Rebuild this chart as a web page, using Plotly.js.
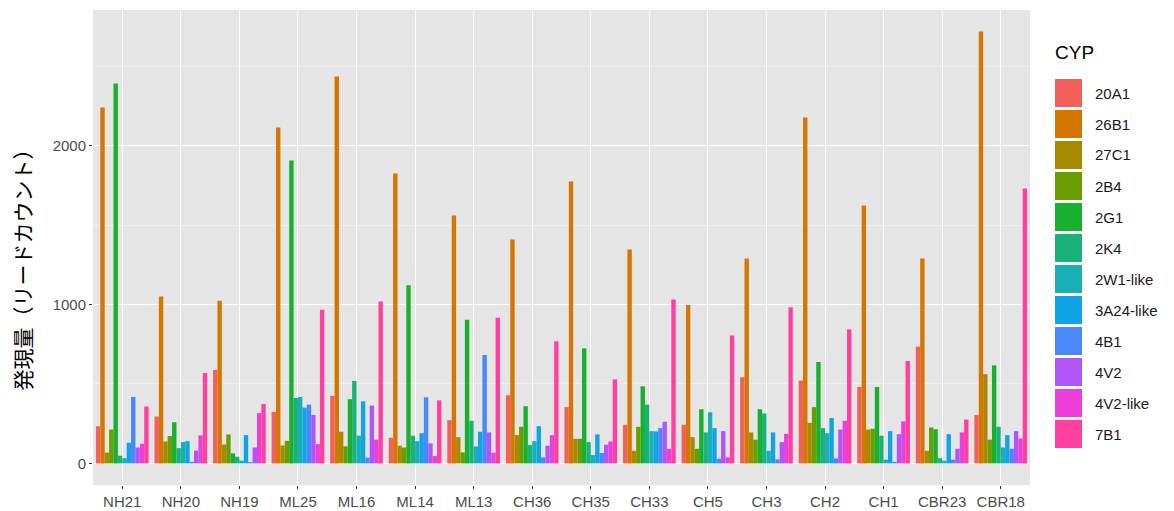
<!DOCTYPE html>
<html><head><meta charset="utf-8">
<script src="https://cdn.plot.ly/plotly-3.0.1.min.js"></script>
<style>html,body{margin:0;padding:0;background:#fff}#c{width:1174px;height:511px}</style>
</head><body><div id="c"></div>
<script>
const categories = ["NH21","NH20","NH19","ML25","ML16","ML14","ML13","CH36","CH35","CH33","CH5","CH3","CH2","CH1","CBR23","CBR18"];
const seriesNames = ["20A1","26B1","27C1","2B4","2G1","2K4","2W1-like","3A24-like","4B1","4V2","4V2-like","7B1"];
const colors = ["#F2605B","#D47600","#A88A00","#6A9E00","#18B02F","#1AB27A","#18B0B4","#0EA4E6","#4A87FA","#B255F7","#EE3ED9","#FF40A0"];
const yTitle = '発現量（リードカウント）';

const v20A1   = [234, 295, 588, 324, 425, 161, 272, 429, 354, 243, 243, 542, 521, 481, 734, 305];
const v26B1   = [2240,1050,1023,2113,2434,1824,1560,1409,1774,1346, 996,1289,2176,1623,1289,2717];
const v27C1   = [ 67, 138, 119, 113, 199, 111, 165, 178, 155,  79, 165, 195, 255, 213,  79, 561];
const v2B4    = [213, 172, 182, 142, 107, 100,  69, 230, 155, 230,  92, 149, 354, 218, 226, 149];
const v2G1    = [2390, 259, 63,1906, 404,1121, 904, 360, 724, 485, 341, 341, 638, 481, 215, 617];
const v2K4    = [ 48,  96,  42, 412, 519, 174, 268, 115, 134, 370, 195, 314, 222, 174,  33, 230];
const v2W1    = [ 33, 134,  17, 418, 174, 140, 107, 140,  52, 203, 322,  79, 190,  23,  17, 100];
const v3A24   = [130, 140, 178, 351, 391, 190, 199, 234, 182, 201, 222, 195, 285, 203, 184, 178];
const v4B1    = [418,  10,   8, 370,  36, 416, 682,  38,  65, 222,  29,  25,  31,  10,  23,  92];
const v4V2    = [100,  80, 100, 305, 364, 126, 195, 111, 117, 262, 203, 134, 213, 184,  92, 203];
const v4V2l   = [123, 176, 316, 121, 149,  46,  67, 178, 138,  92,  38, 186, 268, 264, 195, 157];
const v7B1    = [358, 569, 374, 966,1019, 397, 916, 768, 529,1031, 805, 983, 843, 644, 276,1730];
const yTicks = [0, 1000, 2000];

const seriesValues = [v20A1,v26B1,v27C1,v2B4,v2G1,v2K4,v2W1,v3A24,v4B1,v4V2,v4V2l,v7B1];

const L = 93, R = 1030, T = 10, B = 485;
const PW = R - L, PH = B - T;
const px = x => (x - L) / PW;
const py = y => (B - y) / PH;

const traces = seriesNames.map((n, i) => ({
  type: 'bar', name: n, x: categories, y: seriesValues[i],
  marker: {color: colors[i], line: {width: 0}}, showlegend: false, hoverinfo: 'x+y+name'
}));

const shapes = [], annotations = [];
annotations.push({xref:'paper', yref:'paper', x: px(21.5), y: py(265), xanchor:'center', yanchor:'middle',
  textangle: -90, text: yTitle, showarrow:false,
  font:{family:'Noto Sans CJK JP, sans-serif', size:21, color:'#000'}});
annotations.push({xref:'paper', yref:'paper', x: px(1053), y: py(52), xanchor:'left', yanchor:'middle',
  text:'CYP', showarrow:false, font:{family:'Liberation Sans, Arial, sans-serif', size:19, color:'#000'}});
seriesNames.forEach((n, i) => {
  const cy = 93 + 31 * i;
  shapes.push({type:'rect', xref:'paper', yref:'paper', x0: px(1055), x1: px(1082), y0: py(cy - 14), y1: py(cy + 14),
    fillcolor: colors[i], line:{width:0}, layer:'above'});
  annotations.push({xref:'paper', yref:'paper', x: px(1093), y: py(cy), xanchor:'left', yanchor:'middle',
    text: n, showarrow:false, font:{family:'Liberation Sans, Arial, sans-serif', size:15, color:'#1a1a1a'}});
});

const layout = {
  width: 1174, height: 511,
  margin: {l: L, r: 1174 - R, t: T, b: 511 - B, pad: 0},
  paper_bgcolor: '#ffffff', plot_bgcolor: '#E5E5E5',
  barmode: 'group', bargap: 0.1, bargroupgap: 0,
  showlegend: false,
  font: {family: 'Liberation Sans, Arial, sans-serif'},
  xaxis: {
    type: 'category', categoryorder: 'array', categoryarray: categories,
    showgrid: true, gridcolor: '#ffffff', gridwidth: 1,
    ticks: 'outside', ticklen: 3, tickcolor: '#333333', tickwidth: 1,
    tickfont: {size: 15, color: '#4D4D4D'}, zeroline: false, showline: false
  },
  yaxis: {
    range: [-136, 2853], tickvals: yTicks, ticktext: yTicks.map(String),
    showgrid: true, gridcolor: '#ffffff', gridwidth: 1.1,
    minor: {tickvals: [500, 1500, 2500], showgrid: true, gridcolor: '#F3F3F3', gridwidth: 0.6, ticks: ''},
    ticks: 'outside', ticklen: 3, tickcolor: '#333333', tickwidth: 1,
    tickfont: {size: 15, color: '#4D4D4D'}, zeroline: false, showline: false
  },
  shapes: shapes, annotations: annotations
};

Plotly.newPlot('c', traces, layout, {displayModeBar: false, staticPlot: true});
</script>
</body></html>
